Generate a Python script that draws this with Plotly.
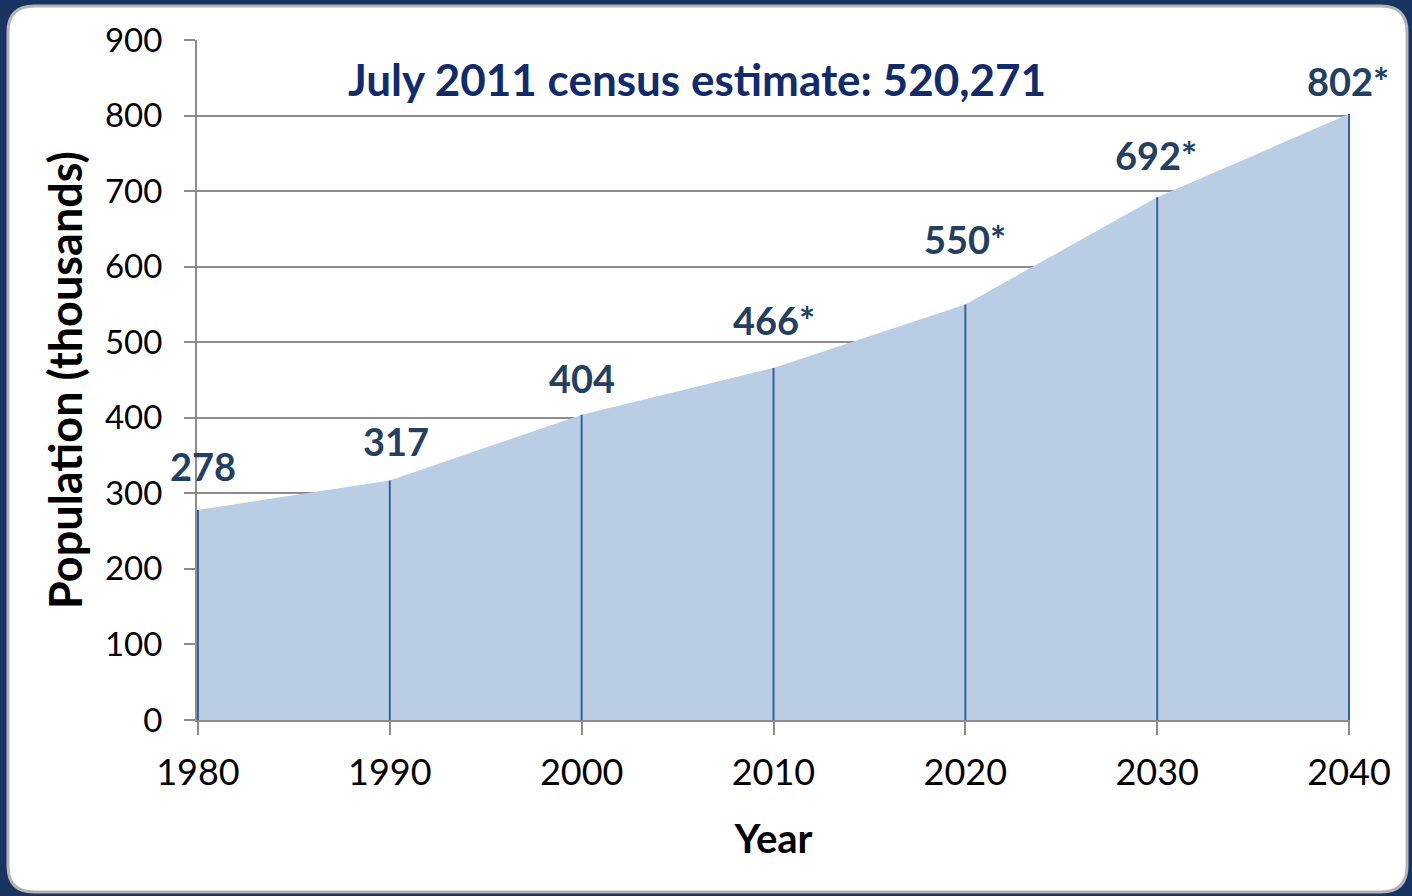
import plotly.graph_objects as go

# ---- data ----
years = [1980, 1990, 2000, 2010, 2020, 2030, 2040]
population = [278, 317, 404, 466, 550, 692, 802]
labels = ["278", "317", "404", "466*", "550*", "692*", "802*"]
y_ticks = [0, 100, 200, 300, 400, 500, 600, 700, 800, 900]
title_text = "July 2011 census estimate: 520,271"

# label offsets (pixels) relative to each point
label_dx = [5, 6, 0, 0, 0, -1, -1]
label_dy = [44, 39, 37, 48, 65, 42, 33]

# ---- layout geometry ----
FW, FH = 1412, 896
L, R, T, B = 197, 62, 40, 176
PW, PH = FW - L - R, FH - T - B


def pp(px, py):
    return ((px - L) / PW, (FH - B - py) / PH)


FONT = "Lato"
LABEL_COLOR = "#243f60"

fig = go.Figure()

# area
fig.add_trace(go.Scatter(
    x=years, y=population, mode="lines", fill="tozeroy",
    fillcolor="#b9cde5", line=dict(width=0, color="#b9cde5"),
    hoverinfo="x+y", showlegend=False,
))

# drop lines
dx, dy = [], []
for yr, v in zip(years, population):
    dx += [yr, yr, None]
    dy += [0, v, None]
fig.add_trace(go.Scatter(
    x=dx, y=dy, mode="lines", line=dict(color="#3b5f96", width=2),
    hoverinfo="skip", showlegend=False,
))

# data labels
for yr, v, t, ddx, ddy in zip(years, population, labels, label_dx, label_dy):
    fig.add_annotation(
        x=yr, y=v, text=t, showarrow=False, xshift=ddx, yshift=ddy,
        xanchor="center", yanchor="middle",
        font=dict(family=FONT, size=38, color=LABEL_COLOR, weight="bold"),
    )

# white rounded panel
x0, y0, x1, y1, rr = 8, 6, 1407, 892, 26


def P(px, py):
    a, b = pp(px, py)
    return f"{a:.5f},{b:.5f}"


path = (
    f"M {P(x0 + rr, y0)} L {P(x1 - rr, y0)} Q {P(x1, y0)} {P(x1, y0 + rr)} "
    f"L {P(x1, y1 - rr)} Q {P(x1, y1)} {P(x1 - rr, y1)} "
    f"L {P(x0 + rr, y1)} Q {P(x0, y1)} {P(x0, y1 - rr)} "
    f"L {P(x0, y0 + rr)} Q {P(x0, y0)} {P(x0 + rr, y0)} Z"
)
fig.add_shape(type="path", path=path, xref="paper", yref="paper",
              fillcolor="white", line=dict(color="#b4b4b4", width=3),
              layer="below")

tx, ty = pp(697, 81)
fig.update_layout(
    width=FW, height=FH,
    margin=dict(l=L, r=R, t=T, b=B, autoexpand=False),
    paper_bgcolor="#1a3462",
    plot_bgcolor="rgba(0,0,0,0)",
    showlegend=False,
    title=dict(
        text=title_text, x=tx, y=ty, xref="paper", yref="paper",
        xanchor="center", yanchor="middle",
        font=dict(family=FONT, size=44, color="#132b6b", weight="bold"),
    ),
    xaxis=dict(
        range=[1979.95, 2040.05], tickvals=years, ticktext=[str(y) for y in years],
        showgrid=False, zeroline=False, showline=True, linecolor="#8c8c8c", linewidth=2,
        ticks="outside", ticklen=13, tickwidth=2, tickcolor="#8c8c8c",
        tickfont=dict(family=FONT, size=36, color="black"),
        ticklabelstandoff=7,
        title=dict(text="Year", standoff=33,
                   font=dict(family=FONT, size=40, color="black", weight="bold")),
    ),
    yaxis=dict(
        range=[0, 900], tickvals=y_ticks, ticktext=[str(v) for v in y_ticks],
        showgrid=True, gridcolor="#8c8c8c", gridwidth=2,
        zeroline=False, showline=True, linecolor="#8c8c8c", linewidth=2,
        ticks="outside", ticklen=11, tickwidth=2, tickcolor="#8c8c8c",
        tickfont=dict(family=FONT, size=33, color="black"),
        ticklabelstandoff=15,
        title=dict(text="Population (thousands)", standoff=8,
                   font=dict(family=FONT, size=45, color="black", weight="bold")),
    ),
)

fig.write_html(
    "out.html",
    config={"displayModeBar": False},
    post_script="document.body.style.margin='0';document.body.style.background='#1a3462';",
)
